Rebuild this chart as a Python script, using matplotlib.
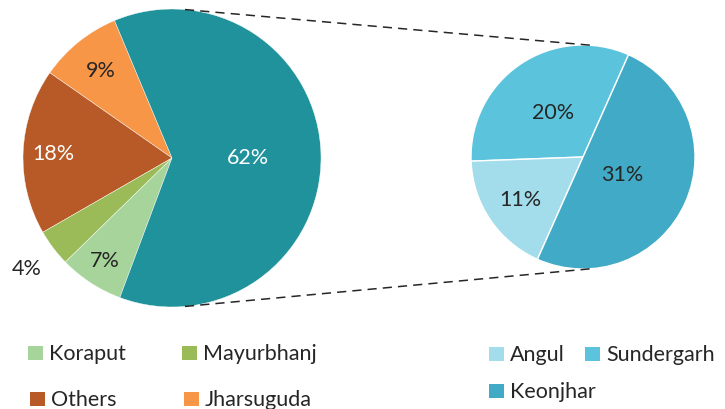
import matplotlib.pyplot as plt
import numpy as np
from matplotlib.patches import Rectangle

plt.rcParams['font.family'] = ['Lato', 'DejaVu Sans']

# Left pie: districts, the big teal slice is broken out on the right
left_labels = ['Jharsuguda', 'Others', 'Mayurbhanj', 'Koraput', 'Top three']
left_values = [9, 18, 4, 7, 62]
left_colors = ['#F79646', '#B85A27', '#9BBB59', '#A6D49B', '#20929B']
left_text_colors = ['#262626', 'white', '#262626', '#262626', 'white']
left_label_dist = [0.76, 0.80, 1.22, 0.82, 0.51]

# Right pie: breakdown of the 62%
right_labels = ['Sundergarh', 'Angul', 'Keonjhar']
right_values = [20, 11, 31]
right_colors = ['#5BC4DC', '#A3DCEB', '#41AAC6']
right_label_dist = [0.48, 0.67, 0.38]

H = 410
FS = 15.5
fig = plt.figure(figsize=(7.25, 4.1), dpi=100)
ax = fig.add_axes([0, 0, 1, 1])

left_c, left_r = (172, H - 159), 149
right_c, right_r = (583, H - 158), 112


def draw_pie(values, colors, center, radius, start, dists, text_colors, total, edge_w):
    wedges, _ = ax.pie(values, colors=colors, center=center, radius=radius,
                       startangle=start, counterclock=True,
                       wedgeprops=dict(edgecolor='white', linewidth=edge_w))
    for w, v, d, tc in zip(wedges, values, dists, text_colors):
        mid = np.deg2rad((w.theta1 + w.theta2) / 2)
        x = center[0] + d * radius * np.cos(mid)
        y = center[1] + d * radius * np.sin(mid)
        ax.text(x, y, f'{round(100 * v / total)}%', ha='center', va='center',
                fontsize=FS, color=tc)
    return wedges


total = sum(left_values)
lw = draw_pie(left_values, left_colors, left_c, left_r, 112.7,
              left_label_dist, left_text_colors, total, 0.3)
rw = draw_pie(right_values, right_colors, right_c, right_r, 66,
              right_label_dist, ['#262626'] * 3, total, 1.0)

# dashed connectors between the two pies
for ang in (85, -85):
    a = np.deg2rad(ang)
    x0 = left_c[0] + left_r * np.cos(a)
    y0 = left_c[1] + left_r * np.sin(a)
    x1 = right_c[0] + right_r * np.cos(a)
    y1 = right_c[1] + right_r * np.sin(a)
    ax.plot([x0, x1], [y0, y1], color='#262626', linestyle=(0, (6, 4)), lw=1.1)

# legend entries: (wedge, label, square x, row y)
legend_items = [
    (lw[3], 'Koraput', 28, 354),
    (lw[2], 'Mayurbhanj', 182, 354),
    (lw[1], 'Others', 30, 400),
    (lw[0], 'Jharsuguda', 184, 400),
    (rw[1], 'Angul', 489, 355),
    (rw[0], 'Sundergarh', 585, 355),
    (rw[2], 'Keonjhar', 489, 392),
]
for w, name, x, y in legend_items:
    ax.add_patch(Rectangle((x, H - y - 7), 15, 14, facecolor=w.get_facecolor(),
                           edgecolor='none'))
    ax.text(x + 21, H - y, name, ha='left', va='center', fontsize=FS,
            color='#262626')

ax.set_xlim(0, 725)
ax.set_ylim(0, H)
ax.set_aspect('equal')
ax.axis('off')

plt.savefig('out.png', dpi=100)
